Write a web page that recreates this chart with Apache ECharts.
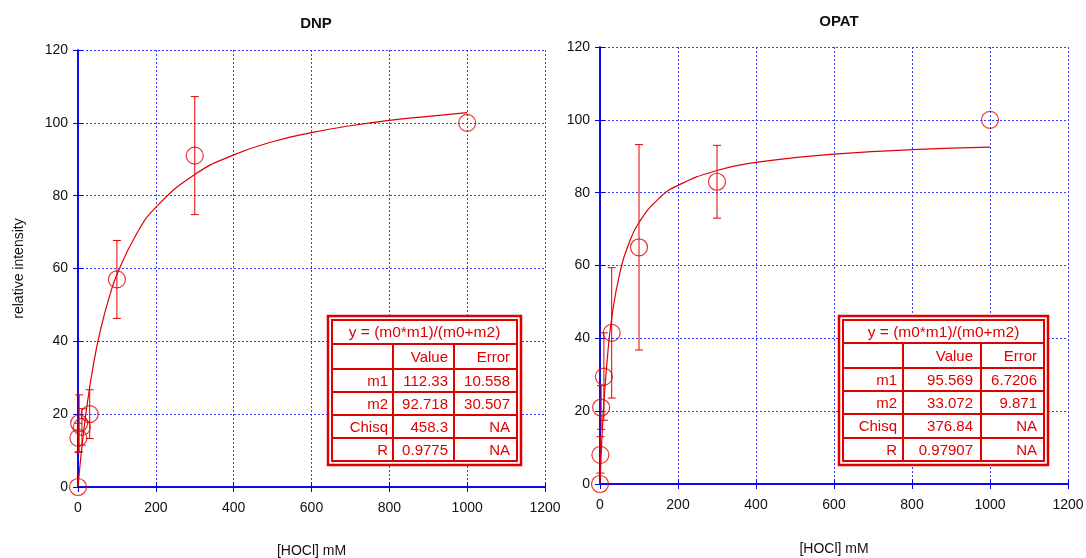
<!DOCTYPE html>
<html>
<head>
<meta charset="utf-8">
<script src="https://cdn.jsdelivr.net/npm/echarts@6/dist/echarts.min.js"></script>
<style>
  html, body { margin: 0; padding: 0; background: #fff; }
  #chart { width: 1086px; height: 558px; }
</style>
</head>
<body>
<div id="chart"></div>
<script>
// measured points
const doseX = [0, 1, 3, 10, 30, 100, 300, 1000];
const dnpY = [0, 13.5, 17.5, 16.5, 20, 57, 91, 100];
const dnpErr = [0, 4, 7.8, 5, 6.7, 10.7, 16.2, 0];
const opatY = [0, 8, 21, 29.5, 41.5, 65, 83, 100];
const opatErr = [0, 5, 6, 12, 17.9, 28.2, 10, 0];

// fitted curves
const dnpFitX = [0, 5, 10, 20, 40, 60, 80, 100, 150, 200, 300, 400, 500, 600, 700, 800, 900, 1000];
const dnpFitY = [0, 5.8, 10.9, 19.9, 33.9, 44.1, 52.0, 58.3, 69.4, 76.8, 85.8, 91.2, 94.8, 97.3, 99.2, 100.7, 101.8, 102.8];
const opatFitX = [0, 2, 5, 10, 20, 30, 50, 75, 100, 150, 200, 300, 400, 500, 600, 800, 1000];
const opatFitY = [0, 5.5, 12.6, 22.2, 36.0, 45.5, 57.5, 66.3, 71.8, 78.3, 82.0, 86.1, 88.3, 89.6, 90.6, 91.8, 92.5];

// fit tables
const tableHead = ['', 'Value', 'Error'];
const tableNames = ['m1', 'm2', 'Chisq', 'R'];
const dnpValues = ['112.33', '92.718', '458.3', '0.9775'];
const dnpErrors = ['10.558', '30.507', 'NA', 'NA'];
const opatValues = ['95.569', '33.072', '376.84', '0.97907'];
const opatErrors = ['6.7206', '9.871', 'NA', 'NA'];
const fitFormula = 'y = (m0*m1)/(m0+m2)';

const xTicks = { min: 0, max: 1200, interval: 200 };
const yTicks = { min: 0, max: 120, interval: 20 };

const RED = '#e00000';
const BLUE = '#0000ee';
const GRIDBLUE = '#3a3aff';
const FONT = 'Liberation Sans, Arial, sans-serif';

const chart = echarts.init(document.getElementById('chart'));

function pairs(xs, ys) {
  return xs.map((x, i) => [x, ys[i]]);
}

function errData(xs, ys, es) {
  return xs.map((x, i) => [x, ys[i] - es[i], ys[i] + es[i]]);
}

function errorBars(data, idx) {
  return {
    type: 'custom',
    xAxisIndex: idx * 2,
    yAxisIndex: idx * 2,
    data: data,
    z: 3,
    renderItem: function (params, api) {
      if (api.value(1) === api.value(2)) return;
      const lo = api.coord([api.value(0), api.value(1)]);
      const hi = api.coord([api.value(0), api.value(2)]);
      const cap = 4;
      const st = { stroke: RED, lineWidth: 1 };
      return {
        type: 'group',
        children: [
          { type: 'line', shape: { x1: lo[0], y1: lo[1], x2: hi[0], y2: hi[1] }, style: st },
          { type: 'line', shape: { x1: lo[0] - cap, y1: lo[1], x2: lo[0] + cap, y2: lo[1] }, style: st },
          { type: 'line', shape: { x1: hi[0] - cap, y1: hi[1], x2: hi[0] + cap, y2: hi[1] }, style: st }
        ]
      };
    }
  };
}

function xAxes(gridIndex, gap) {
  return [
    {
      type: 'value', gridIndex: gridIndex, ...xTicks,
      name: '[HOCl] mM', nameLocation: 'middle', nameGap: gap,
      nameTextStyle: { fontFamily: FONT, fontSize: 14, color: '#111' },
      axisLine: { lineStyle: { color: BLUE, width: 1.5 } },
      axisTick: { inside: true, length: 5, lineStyle: { color: BLUE } },
      axisLabel: { fontFamily: FONT, fontSize: 14, color: '#111', margin: 14, formatter: v => String(v) },
      splitLine: { show: true, lineStyle: { color: GRIDBLUE, type: [2, 2], width: 1 } }
    },
    {
      type: 'value', gridIndex: gridIndex, position: 'top', ...xTicks,
      axisLine: { lineStyle: { color: BLUE, width: 1.5 } },
      axisTick: { inside: true, length: 5, lineStyle: { color: BLUE } },
      axisLabel: { show: false },
      splitLine: { show: false }
    }
  ];
}

function yAxes(gridIndex, name) {
  return [
    {
      type: 'value', gridIndex: gridIndex, ...yTicks,
      name: name, nameLocation: 'middle', nameGap: 52,
      nameTextStyle: { fontFamily: FONT, fontSize: 14, color: '#111' },
      axisLine: { show: true, lineStyle: { color: BLUE, width: 1.5 } },
      axisTick: { show: true, inside: true, length: 5, lineStyle: { color: BLUE } },
      axisLabel: { fontFamily: FONT, fontSize: 14, color: '#111', margin: 10 },
      splitLine: { show: true, lineStyle: { color: GRIDBLUE, type: [2, 2], width: 1 } }
    },
    {
      type: 'value', gridIndex: gridIndex, position: 'right', ...yTicks,
      axisLine: { show: true, lineStyle: { color: BLUE, width: 1.5 } },
      axisTick: { show: true, inside: true, length: 5, lineStyle: { color: BLUE } },
      axisLabel: { show: false },
      splitLine: { show: false }
    }
  ];
}

function fitTable(box, rowY, colX, textX, values, errors) {
  const st = { stroke: RED, lineWidth: 2, fill: null };
  const items = [];
  items.push({ type: 'rect', z: 100, shape: { x: box[0], y: box[1], width: box[2] - box[0], height: box[3] - box[1] }, style: { stroke: RED, lineWidth: 2.5, fill: '#fff' } });
  items.push({ type: 'rect', z: 101, shape: { x: box[0] + 4, y: box[1] + 4, width: box[2] - box[0] - 8, height: box[3] - box[1] - 8 }, style: st });
  rowY.slice(1, -1).forEach(y => {
    items.push({ type: 'line', z: 101, shape: { x1: box[0] + 4, y1: y, x2: box[2] - 4, y2: y }, style: st });
  });
  colX.forEach(x => {
    items.push({ type: 'line', z: 101, shape: { x1: x, y1: rowY[1], x2: x, y2: box[3] - 4 }, style: st });
  });
  const font = '15px ' + FONT;
  items.push({ type: 'text', z: 102, style: { text: fitFormula, x: (box[0] + box[2]) / 2, y: (rowY[0] + rowY[1]) / 2 + 1, align: 'center', verticalAlign: 'middle', fill: RED, font: '15.5px ' + FONT } });
  const rows = [tableHead].concat(tableNames.map((n, i) => [n, values[i], errors[i]]));
  rows.forEach((r, ri) => {
    const yc = (rowY[ri + 1] + rowY[ri + 2]) / 2 + 1;
    r.forEach((t, ci) => {
      items.push({ type: 'text', z: 102, style: { text: t, x: textX[ci], y: yc, align: 'right', verticalAlign: 'middle', fill: RED, font: font } });
    });
  });
  return { type: 'group', z: 100, children: items };
}

chart.setOption({
  animation: false,
  title: [
    { text: 'DNP', left: 311, top: 11, textAlign: 'center', textStyle: { fontFamily: FONT, fontSize: 15, fontWeight: 'bold', color: '#111' } },
    { text: 'OPAT', left: 834, top: 9, textAlign: 'center', textStyle: { fontFamily: FONT, fontSize: 15, fontWeight: 'bold', color: '#111' } }
  ],
  grid: [
    { left: 78, right: 541, top: 50, bottom: 71, outerBoundsMode: 'none', containLabel: false },
    { left: 600, right: 18, top: 47, bottom: 74, outerBoundsMode: 'none', containLabel: false }
  ],
  xAxis: xAxes(0, 57).concat(xAxes(1, 58)),
  yAxis: yAxes(0, 'relative intensity').concat(yAxes(1, '')),
  series: [
    {
      type: 'line', xAxisIndex: 0, yAxisIndex: 0, data: pairs(dnpFitX, dnpFitY),
      smooth: true, symbol: 'none', lineStyle: { color: RED, width: 1.2 }, z: 2
    },
    {
      type: 'scatter', xAxisIndex: 0, yAxisIndex: 0, data: pairs(doseX, dnpY),
      symbol: 'circle', symbolSize: 17, itemStyle: { color: 'rgba(0,0,0,0)', borderColor: RED, borderWidth: 1.2 }, z: 4
    },
    errorBars(errData(doseX, dnpY, dnpErr), 0),
    {
      type: 'line', xAxisIndex: 2, yAxisIndex: 2, data: pairs(opatFitX, opatFitY),
      smooth: true, symbol: 'none', lineStyle: { color: RED, width: 1.2 }, z: 2
    },
    {
      type: 'scatter', xAxisIndex: 2, yAxisIndex: 2, data: pairs(doseX, opatY),
      symbol: 'circle', symbolSize: 17, itemStyle: { color: 'rgba(0,0,0,0)', borderColor: RED, borderWidth: 1.2 }, z: 4
    },
    errorBars(errData(doseX, opatY, opatErr), 1)
  ],
  graphic: [
    fitTable([328, 316, 521, 465], [320, 344, 369, 392, 415, 438, 461], [393, 454], [388, 448, 510], dnpValues, dnpErrors),
    fitTable([839, 316, 1048, 465], [320, 343, 368, 391, 414, 438, 461], [903, 981], [897, 973, 1037], opatValues, opatErrors)
  ]
});
</script>
</body>
</html>
